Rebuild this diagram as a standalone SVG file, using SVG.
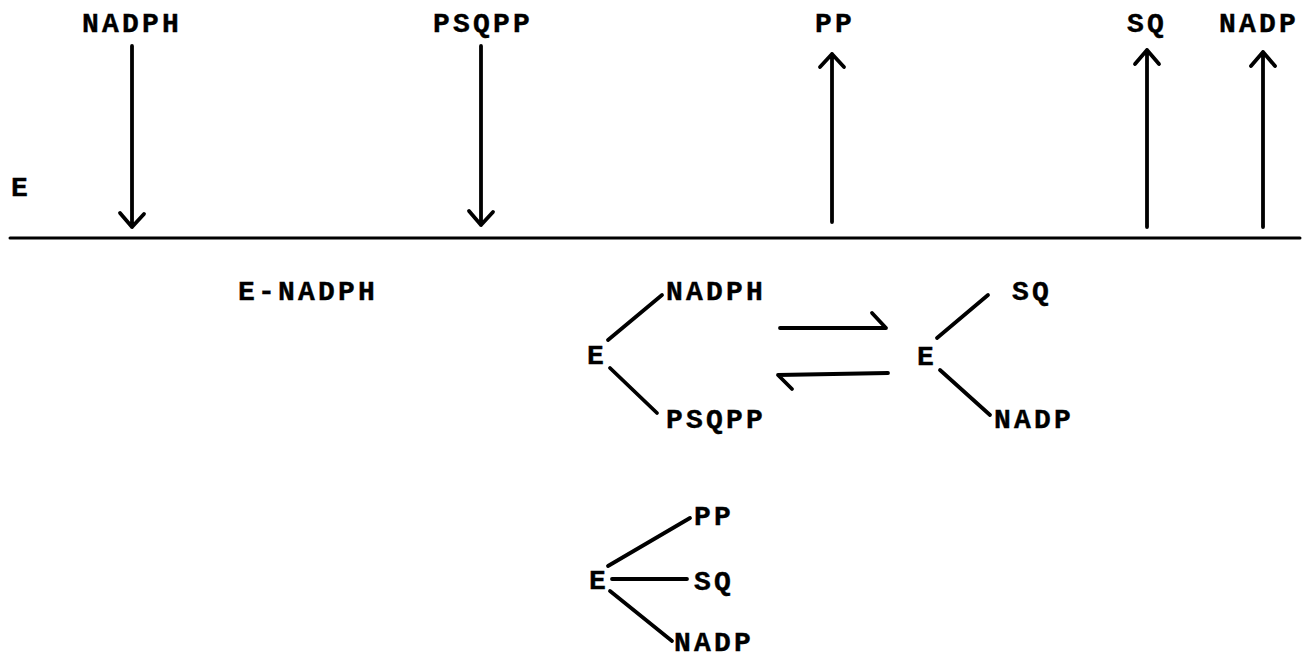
<svg xmlns="http://www.w3.org/2000/svg" width="1302" height="653" viewBox="0 0 1302 653">
<style>
text{font-family:"Liberation Mono","Courier New",monospace;font-weight:bold;font-size:28px;letter-spacing:3.2px;fill:#000;stroke:#000;stroke-width:0.4}
.ln{stroke:#000;stroke-width:3.8;stroke-linecap:round;stroke-linejoin:round;fill:none}
</style>
<rect width="1302" height="653" fill="#fff"/>
<g id="connectors" class="ln">
<line x1="10" y1="238" x2="1300" y2="238" stroke-width="3"/>
<path d="M132 46 V227 M120 213 L132 227 L144 214"/>
<path d="M481 46 V225 M469 211 L481 225 L493 212"/>
<path d="M832 222 V54 M820 67 L832 54 L844 67"/>
<path d="M1147 227 V50 M1135 64 L1147 50 L1159 64"/>
<path d="M1263 227 V52 M1251 66 L1263 52 L1275 66"/>
<path d="M608 340 L662 295 M610 368 L657 413"/>
<path d="M780 328 H886 L872 313"/>
<path d="M888 373 L778 375 L792 389"/>
<path d="M937 338 L988 295 M940 370 L990 415"/>
<path d="M608 566 L690 518 M612 579 H687 M610 591 L672 641"/>
</g>
<g id="n-top-nadph"><text x="82" y="32">NADPH</text></g>
<g id="n-top-psqpp"><text x="433" y="32">PSQPP</text></g>
<g id="n-top-pp"><text x="815" y="32">PP</text></g>
<g id="n-top-sq"><text x="1127" y="32">SQ</text></g>
<g id="n-top-nadp"><text x="1219" y="32">NADP</text></g>
<g id="n-e"><text x="11" y="196">E</text></g>
<g id="n-e-nadph"><text x="238" y="300">E-NADPH</text></g>
<g id="n-complex1"><text x="587" y="364">E</text><text x="666" y="300">NADPH</text><text x="666" y="428">PSQPP</text></g>
<g id="n-complex2"><text x="917" y="365">E</text><text x="1012" y="300">SQ</text><text x="994" y="428">NADP</text></g>
<g id="n-complex3"><text x="589" y="589">E</text><text x="694" y="525">PP</text><text x="694" y="590">SQ</text><text x="674" y="651">NADP</text></g>
</svg>
